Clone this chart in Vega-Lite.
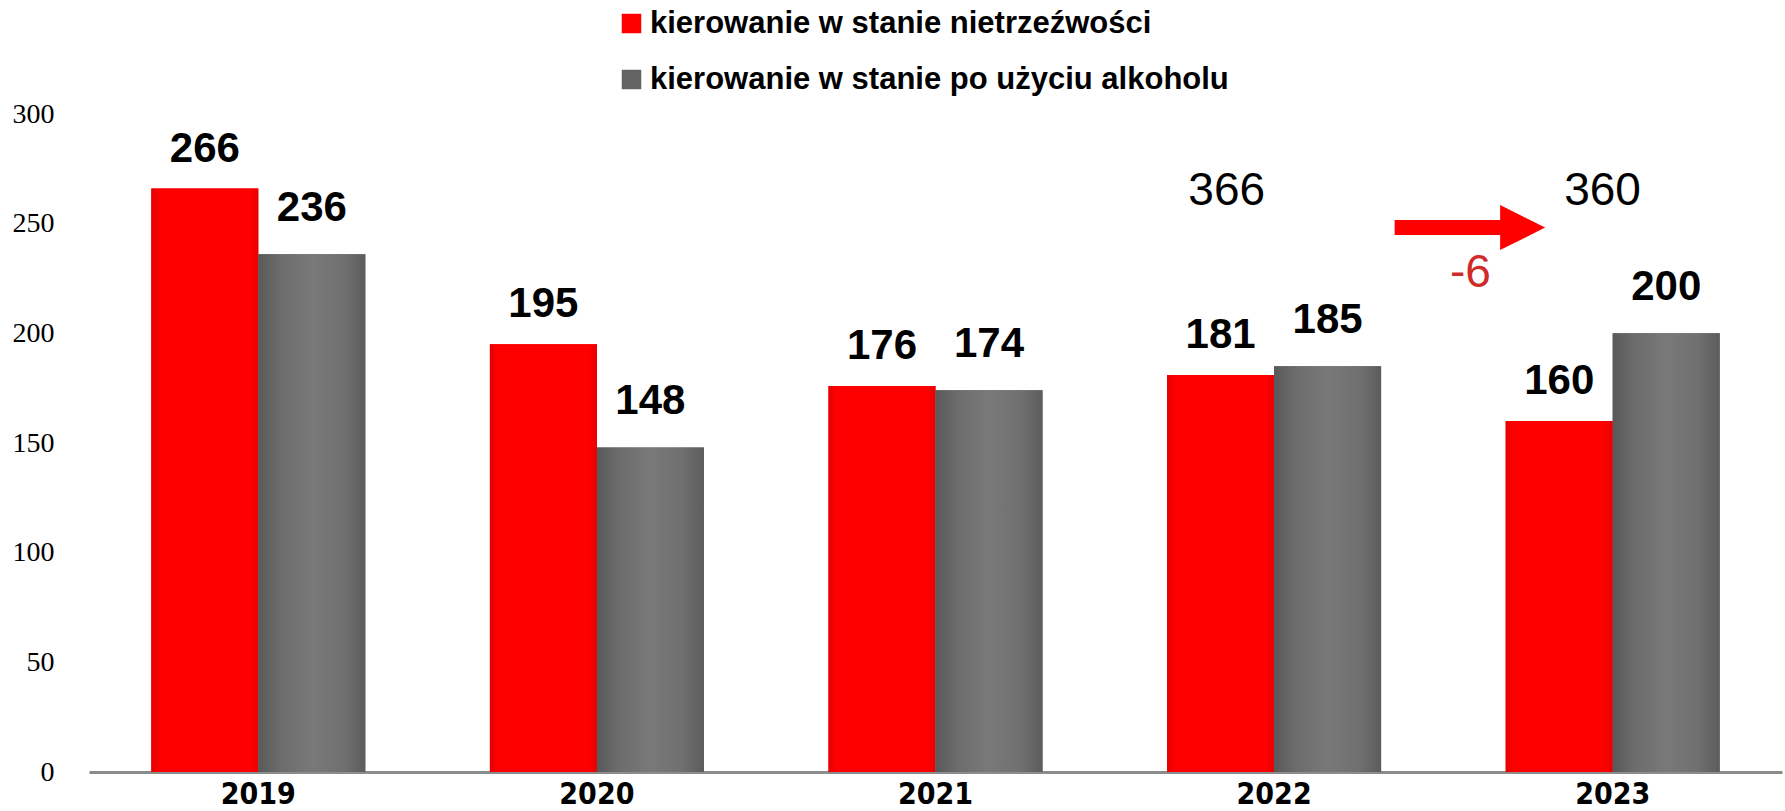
{
  "$schema": "https://vega.github.io/schema/vega-lite/v6.json",
  "width": 1693,
  "height": 658,
  "autosize": {"type": "none"},
  "padding": {"left": 89, "top": 114, "right": 3, "bottom": 39},
  "background": "white",
  "config": {
    "view": {"stroke": null},
    "font": "Liberation Sans",
    "legend": {
      "labelFont": "Liberation Sans",
      "labelFontWeight": "bold",
      "labelFontSize": 31,
      "labelColor": "black",
      "labelLimit": 0,
      "symbolType": "square",
      "symbolSize": 380,
      "symbolStrokeWidth": 0,
      "rowPadding": 24,
      "labelOffset": 3,
      "padding": 0,
      "offset": 0
    }
  },
  "datasets": {
    "bars": [
      {"year": "2019", "series": "kierowanie w stanie nietrzeźwości", "value": 266},
      {"year": "2019", "series": "kierowanie w stanie po użyciu alkoholu", "value": 236},
      {"year": "2020", "series": "kierowanie w stanie nietrzeźwości", "value": 195},
      {"year": "2020", "series": "kierowanie w stanie po użyciu alkoholu", "value": 148},
      {"year": "2021", "series": "kierowanie w stanie nietrzeźwości", "value": 176},
      {"year": "2021", "series": "kierowanie w stanie po użyciu alkoholu", "value": 174},
      {"year": "2022", "series": "kierowanie w stanie nietrzeźwości", "value": 181},
      {"year": "2022", "series": "kierowanie w stanie po użyciu alkoholu", "value": 185},
      {"year": "2023", "series": "kierowanie w stanie nietrzeźwości", "value": 160},
      {"year": "2023", "series": "kierowanie w stanie po użyciu alkoholu", "value": 200}
    ],
    "notes": [
      {"pos": 2021.86, "level": 265, "label": "366", "kind": "total"},
      {"pos": 2022.97, "level": 265, "label": "360", "kind": "total"},
      {"pos": 2022.58, "level": 227.5, "label": "-6", "kind": "change"}
    ],
    "arrow": [
      {"from": 2022.356, "to": 2022.68, "head": 2022.734, "level": 248.2}
    ]
  },
  "resolve": {"scale": {"x": "independent"}},
  "layer": [
    {
      "data": {"name": "bars"},
      "layer": [
        {
          "mark": {"type": "bar"},
          "encoding": {
            "x": {
              "field": "year", "type": "nominal",
              "scale": {"paddingInner": 0.368, "paddingOuter": 0.184},
              "axis": {
                "title": null, "labelAngle": 0, "ticks": false,
                "domainColor": "#8c8c8c", "domainWidth": 3,
                "labelFont": "DejaVu Sans Condensed, Liberation Sans, sans-serif", "labelFontWeight": "bold",
                "labelFontSize": 30, "labelColor": "black", "labelPadding": 7
              }
            },
            "xOffset": {
              "field": "series", "type": "nominal",
              "scale": {"domain": ["kierowanie w stanie nietrzeźwości", "kierowanie w stanie po użyciu alkoholu"], "paddingInner": 0, "paddingOuter": 0}
            },
            "y": {
              "field": "value", "type": "quantitative",
              "scale": {"domain": [0, 300], "nice": false},
              "axis": {
                "title": null, "values": [0, 50, 100, 150, 200, 250, 300],
                "grid": false, "domain": false, "ticks": false,
                "labelFont": "Liberation Serif", "labelFontSize": 28,
                "labelColor": "black", "labelPadding": 35
              }
            },
            "color": {
              "field": "series", "type": "nominal",
              "scale": {"domain": ["kierowanie w stanie nietrzeźwości", "kierowanie w stanie po użyciu alkoholu"], "range": ["#ff0000", "#636363"]},
              "legend": {"title": null, "orient": "none", "legendX": 527, "legendY": -106, "direction": "vertical"}
            }
          }
        },
        {
          "mark": {"type": "bar"},
          "encoding": {
            "x": {"field": "year", "type": "nominal"},
            "xOffset": {"field": "series", "type": "nominal"},
            "y": {"field": "value", "type": "quantitative"},
            "fill": {
              "condition": {
                "test": "datum.series === 'kierowanie w stanie nietrzeźwości'",
                "value": {"gradient": "linear", "x1": 0, "x2": 1, "y1": 0, "y2": 0,
                  "stops": [{"offset": 0, "color": "#e60000"}, {"offset": 0.08, "color": "#ff0000"}, {"offset": 0.92, "color": "#ff0000"}, {"offset": 1, "color": "#e80000"}]}
              },
              "value": {"gradient": "linear", "x1": 0, "x2": 1, "y1": 0, "y2": 0,
                "stops": [{"offset": 0, "color": "#595959"}, {"offset": 0.2, "color": "#6c6c6c"}, {"offset": 0.5, "color": "#797979"}, {"offset": 0.8, "color": "#707070"}, {"offset": 1, "color": "#5c5c5c"}]}
            }
          }
        },
        {
          "transform": [{"filter": "datum.series === 'kierowanie w stanie nietrzeźwości'"}],
          "mark": {"type": "text", "font": "Liberation Sans", "fontWeight": "bold", "fontSize": 42, "color": "black", "baseline": "middle", "dy": -40},
          "encoding": {
            "x": {"field": "year", "type": "nominal"},
            "xOffset": {"field": "series", "type": "nominal"},
            "y": {"field": "value", "type": "quantitative"},
            "text": {"field": "value", "type": "quantitative"}
          }
        },
        {
          "transform": [{"filter": "datum.series !== 'kierowanie w stanie nietrzeźwości'"}],
          "mark": {"type": "text", "font": "Liberation Sans", "fontWeight": "bold", "fontSize": 42, "color": "black", "baseline": "middle", "dy": -46},
          "encoding": {
            "x": {"field": "year", "type": "nominal"},
            "xOffset": {"field": "series", "type": "nominal"},
            "y": {"field": "value", "type": "quantitative"},
            "text": {"field": "value", "type": "quantitative"}
          }
        }
      ]
    },
    {
      "layer": [
        {
          "data": {"name": "notes"},
          "mark": {"type": "text", "font": "Liberation Sans", "fontSize": 46, "baseline": "middle", "align": "center"},
          "encoding": {
            "x": {"field": "pos", "type": "quantitative", "scale": {"domain": [2018.5, 2023.5], "nice": false, "zero": false}, "axis": null},
            "y": {"field": "level", "type": "quantitative"},
            "text": {"field": "label", "type": "nominal"},
            "color": {"condition": {"test": "datum.kind === 'change'", "value": "#d02a2a"}, "value": "black"}
          }
        },
        {
          "data": {"name": "arrow"},
          "mark": {"type": "rule", "color": "#ff0000", "strokeWidth": 15, "strokeCap": "butt"},
          "encoding": {
            "x": {"field": "from", "type": "quantitative"},
            "x2": {"field": "to"},
            "y": {"field": "level", "type": "quantitative"}
          }
        },
        {
          "data": {"name": "arrow"},
          "mark": {"type": "point", "shape": "M-1,-1L1,0L-1,1Z", "filled": true, "fill": "#ff0000", "opacity": 1, "strokeWidth": 0, "size": 2025},
          "encoding": {
            "x": {"field": "head", "type": "quantitative"},
            "y": {"field": "level", "type": "quantitative"}
          }
        }
      ]
    }
  ]
}
